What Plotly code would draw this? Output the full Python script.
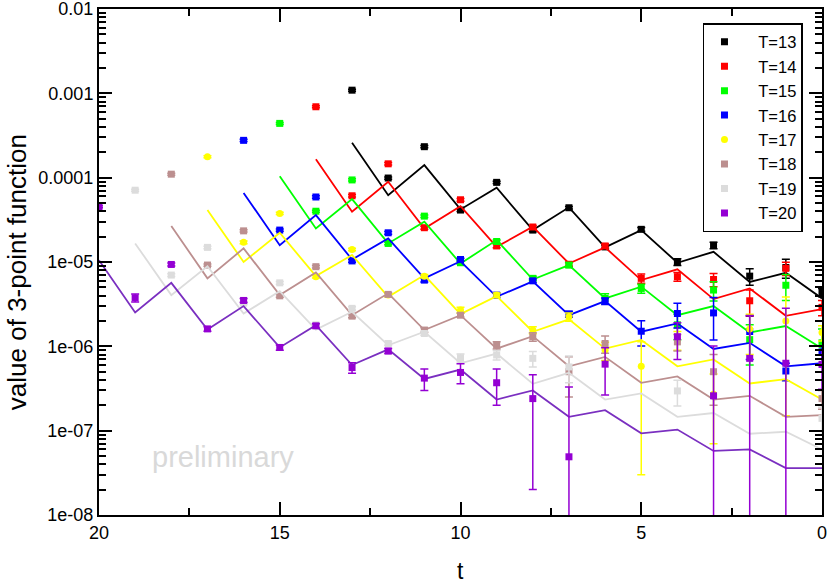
import plotly.graph_objects as go

# values, listed from t = T down to t = 0
t13 = [1.09e-3, 9.9e-5, 2.33e-4, 4.13e-5, 8.8e-5, 2.39e-5, 4.4e-5, 1.51e-5, 2.44e-5, 1.0e-5,
       1.58e-5, 6.8e-6, 8.6e-6, 4.36e-6]
t13_err = [3e-5, 3e-6, 7e-6, 1.5e-6, 2.5e-6, 1e-6, 1.5e-6, 8e-7, 1.2e-6, 9e-7,
           1.4e-6, 1.5e-6, 2.2e-6, 5e-7]
t13_fit = [2.59e-4, 6.2e-5, 1.41e-4, 4.2e-5, 7.6e-5, 2.39e-5, 4.45e-5, 1.49e-5, 2.39e-5, 9.8e-6,
           1.32e-5, 5.8e-6, 7.45e-6, 3.7e-6]

t14 = [6.93e-4, 6.1e-5, 1.46e-4, 2.55e-5, 5.47e-5, 1.55e-5, 2.6e-5, 9.4e-6, 1.55e-5, 6.4e-6,
       6.7e-6, 6.2e-6, 3.47e-6, 8.4e-6, 2.9e-6]
t14_err = [2e-5, 2e-6, 5e-6, 1e-6, 2e-6, 7e-7, 1.1e-6, 5e-7, 8e-7, 8e-7,
           8e-7, 1.1e-6, 1.2e-6, 1.5e-6, 6e-7]
t14_fit = [1.65e-4, 3.94e-5, 8.93e-5, 2.5e-5, 4.6e-5, 1.51e-5, 2.62e-5, 9.6e-6, 1.49e-5, 6.1e-6,
           8.2e-6, 3.63e-6, 4.86e-6, 2.3e-6, 2.76e-6]

t15 = [4.4e-4, 4.0e-5, 9.4e-5, 1.66e-5, 3.5e-5, 9.8e-6, 1.75e-5, 6.4e-6, 9.2e-6, 3.7e-6,
       4.86e-6, 1.8e-6, 4.65e-6, 1.2e-6, 5.3e-6, 1.1e-6]
t15_err = [1.2e-5, 1.2e-6, 3e-6, 6e-7, 1.2e-6, 4e-7, 7e-7, 4e-7, 6e-7, 5e-7,
           6e-7, 6e-7, 1.2e-6, 6e-7, 1.8e-6, 5e-7]
t15_fit = [1.04e-4, 2.5e-5, 5.57e-5, 1.66e-5, 3.0e-5, 9.6e-6, 1.82e-5, 6.2e-6, 9.2e-6, 3.7e-6,
           5.1e-6, 2.34e-6, 3.0e-6, 1.46e-6, 1.74e-6, 9.4e-7]

t16 = [2.77e-4, 2.39e-5, 5.9e-5, 1.03e-5, 2.22e-5, 6.1e-6, 1.07e-5, 4.05e-6, 5.98e-6, 2.41e-6,
       3.44e-6, 1.51e-6, 2.45e-6, 2.49e-6, 1.5e-6, 5.1e-7, 8.6e-7]
t16_err = [8e-6, 8e-7, 2e-6, 4e-7, 8e-7, 3e-7, 4e-7, 2.5e-7, 3e-7, 2e-7,
           3e-7, 5e-7, 8e-7, 1.3e-6, 8e-7, 1.2e-7, 1.5e-7]
t16_fit = [6.6e-5, 1.58e-5, 3.6e-5, 1.07e-5, 1.9e-5, 6.4e-6, 1.02e-5, 3.87e-6, 5.9e-6, 2.34e-6,
           3.44e-6, 1.49e-6, 1.87e-6, 9.3e-7, 1.1e-6, 5.8e-7, 6.3e-7]

t17 = [1.77e-4, 1.71e-5, 3.77e-5, 6.7e-6, 1.41e-5, 4.05e-6, 6.8e-6, 2.7e-6, 4.05e-6, 1.56e-6,
       2.24e-6, 9.0e-7, 5.8e-7, 1.2e-6, 2.7e-7, 1.6e-6, 2.0e-6, 1.46e-6]
t17_err = [5e-6, 6e-7, 1.2e-6, 2.5e-7, 5e-7, 2e-7, 3e-7, 2e-7, 2.5e-7, 1.5e-7,
           2.5e-7, 2.2e-7, 5.5e-7, 3e-7, 2e-7, 8e-7, 1.85e-6, 3e-7]
t17_fit = [4.13e-5, 1.0e-5, 2.22e-5, 6.8e-6, 1.21e-5, 3.87e-6, 7.0e-6, 2.41e-6, 3.93e-6, 1.49e-6,
           2.09e-6, 9.4e-7, 1.19e-6, 5.8e-7, 7.0e-7, 3.63e-7, 4.08e-7, 2.34e-7]

t18 = [1.1e-4, 9.2e-6, 2.34e-5, 3.97e-6, 8.8e-6, 2.28e-6, 4.13e-6, 1.56e-6, 2.34e-6, 1.03e-6,
       1.3e-6, 5.0e-7, 1.08e-6, None, 1.13e-6, 5.0e-7, None, None, 2.4e-7]
t18_err = [3e-6, 3e-7, 7e-7, 1.5e-7, 3e-7, 1e-7, 1.8e-7, 1e-7, 1.2e-7, 1e-7,
           1.5e-7, 2.5e-7, 2.5e-7, 0, 2.5e-7, 3e-7, 0, 0, 6e-8]
t18_fit = [2.67e-5, 6.4e-6, 1.45e-5, 4.05e-6, 7.5e-6, 2.34e-6, 4.25e-6, 1.56e-6, 2.34e-6, 9.4e-7,
           1.32e-6, 5.8e-7, 7.5e-7, 3.69e-7, 4.4e-7, 2.34e-7, 2.59e-7, 1.46e-7, 1.53e-7]

t19 = [7.1e-5, 7.0e-6, 1.49e-5, 3.25e-6, 5.66e-6, 1.8e-6, 2.82e-6, 1.08e-6, 1.42e-6, 7.3e-7,
       7.9e-7, 7.2e-7, 5.7e-7, None, None, 2.96e-7, None, None, None, 1.4e-7]
t19_err = [2e-6, 2.5e-7, 5e-7, 1.2e-7, 2e-7, 8e-8, 1.2e-7, 5e-8, 7e-8, 8e-8,
           1e-7, 1.5e-7, 2e-7, 0, 0, 1e-7, 0, 0, 0, 5e-8]
t19_fit = [1.66e-5, 4.05e-6, 8.9e-6, 2.45e-6, 4.5e-6, 1.58e-6, 2.57e-6, 1.03e-6, 1.49e-6, 6.3e-7,
           8.2e-7, 3.6e-7, 4.85e-7, 2.34e-7, 2.76e-7, 1.46e-7, 1.62e-7, 9.2e-8, 9.7e-8, 6.0e-8]

t20 = [4.52e-5, 3.76e-6, 9.35e-6, 1.61e-6, 3.5e-6, 9.7e-7, 1.75e-6, 5.6e-7, 8.8e-7, 4.2e-7,
       4.9e-7, 3.7e-7, 2.4e-7, 4.9e-8, 6.15e-7, None, 1.3e-6, 2.59e-7, 7.2e-7, 6.3e-7, 6.1e-7]
t20_err = [1.2e-6, 4e-7, 4e-7, 1e-7, 2e-7, 7e-8, 1e-7, 8e-8, 6e-8, 1.2e-7,
           1.3e-7, 1.7e-7, 2.2e-7, 2.8e-7, 3.5e-7, 0, 6e-7, 7.5e-7, 1.6e-6, 2.2e-6, 3e-7]
t20_fit = [1.05e-5, 2.52e-6, 5.66e-6, 1.58e-6, 3.0e-6, 9.7e-7, 1.78e-6, 6.0e-7, 9.2e-7, 4.1e-7,
           5.3e-7, 2.34e-7, 3.0e-7, 1.46e-7, 1.75e-7, 9.3e-8, 1.03e-7, 5.75e-8, 6.0e-8, 3.6e-8, 3.6e-8]

series = [
    (13, t13, t13_err, t13_fit, '#000000', '#000000', 'square'),
    (14, t14, t14_err, t14_fit, '#ff0000', '#ff0000', 'square'),
    (15, t15, t15_err, t15_fit, '#00ff00', '#00ff00', 'square'),
    (16, t16, t16_err, t16_fit, '#0000ff', '#0000ff', 'square'),
    (17, t17, t17_err, t17_fit, '#ffff00', '#ffff00', 'circle'),
    (18, t18, t18_err, t18_fit, '#bc8f8f', '#bc8f8f', 'square'),
    (19, t19, t19_err, t19_fit, '#dcdcdc', '#dcdcdc', 'square'),
    (20, t20, t20_err, t20_fit, '#9400d3', '#7a2fc0', 'square'),
]

y_ticks = [1e-2, 1e-3, 1e-4, 1e-5, 1e-6, 1e-7, 1e-8]
y_labels = ['0.01', '0.001', '0.0001', '1e-05', '1e-06', '1e-07', '1e-08']
y_minor = [m * 10.0 ** e for e in range(-8, -2) for m in range(2, 10)]

fig = go.Figure()

for T, vals, errs, fit, col, line_col, sym in series:
    ts = list(range(T, -1, -1))
    # fit curve
    fig.add_trace(go.Scatter(
        x=ts, y=fit, mode='lines',
        line=dict(color=line_col, width=1.8),
        showlegend=False, hoverinfo='skip'
    ))
    # data points with error bars
    fig.add_trace(go.Scatter(
        x=ts, y=vals, mode='markers',
        name='\u00a0\u00a0\u00a0T=%d' % T,
        marker=dict(color=col, size=7, symbol=sym),
        error_y=dict(type='data', array=errs, color=col, thickness=1.5, width=4),
    ))

# watermark and axis titles as annotations so the frame stays put
fig.add_annotation(
    x=0.172, y=0.115, xref='paper', yref='paper', xanchor='center', yanchor='middle',
    text='preliminary', showarrow=False,
    font=dict(size=29, color='#d9d9d9')
)
fig.add_annotation(
    x=0.5, y=-0.1107, xref='paper', yref='paper', xanchor='center', yanchor='middle',
    text='t', showarrow=False, font=dict(size=23)
)
fig.add_annotation(
    x=-0.1134, y=0.48, xref='paper', yref='paper', xanchor='center', yanchor='middle',
    text='value of 3-point function', textangle=-90, showarrow=False,
    font=dict(size=26)
)

fig.update_layout(
    width=830, height=584,
    margin=dict(l=99, r=8, t=9, b=69, autoexpand=False),
    plot_bgcolor='white', paper_bgcolor='white',
    font=dict(family='Liberation Sans, Arial, sans-serif', color='black'),
    legend=dict(
        x=0.9737, y=0.9723, xanchor='right', yanchor='top',
        bordercolor='black', borderwidth=1.5, bgcolor='white',
        font=dict(size=16.5), tracegroupgap=0, itemwidth=30
    ),
)

fig.update_xaxes(
    range=[20, 0], tickvals=[20, 15, 10, 5, 0], automargin=False,
    ticklabeloverflow='allow',
    showgrid=False, zeroline=False,
    showline=True, linecolor='black', linewidth=2, mirror='ticks',
    ticks='inside', ticklen=13, tickwidth=1.5, tickcolor='black',
    minor=dict(tickvals=[17.5, 12.5, 7.5, 2.5], ticks='inside', ticklen=7,
               tickwidth=1.5, tickcolor='black'),
    tickfont=dict(size=18),
)

fig.update_yaxes(
    type='log', range=[-8, -2], automargin=False,
    ticklabeloverflow='allow',
    tickvals=y_ticks, ticktext=y_labels,
    showgrid=False, zeroline=False,
    showline=True, linecolor='black', linewidth=2, mirror='ticks',
    ticks='inside', ticklen=13, tickwidth=1.5, tickcolor='black',
    minor=dict(tickvals=y_minor, ticks='inside', ticklen=7,
               tickwidth=1.5, tickcolor='black'),
    tickfont=dict(size=18),
)

# the page body carries a default 8px margin; drop it so the figure sits at the window origin
fig.write_html("out.html", config={'displayModeBar': False},
               post_script="document.body.style.margin = '0';")
